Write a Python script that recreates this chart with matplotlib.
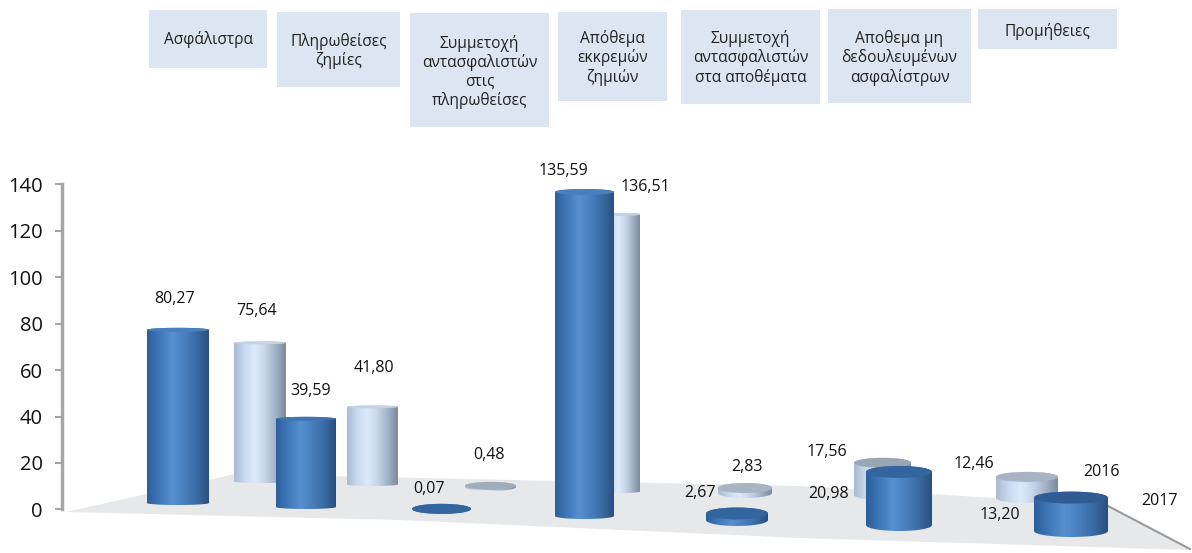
import numpy as np
import matplotlib
matplotlib.use('Agg')
from matplotlib import pyplot as plt
from matplotlib.path import Path
from matplotlib.patches import PathPatch, Polygon, Rectangle, Ellipse
from matplotlib.colors import LinearSegmentedColormap

plt.rcParams['font.family'] = ['Open Sans', 'DejaVu Sans']

categories = ['Ασφάλιστρα', 'Πληρωθείσες\nζημίες', 'Συμμετοχή\nαντασφαλιστών\nστις\nπληρωθείσες',
              'Απόθεμα\nεκκρεμών\nζημιών', 'Συμμετοχή\nαντασφαλιστών\nστα αποθέματα',
              'Αποθεμα μη\nδεδουλευμένων\nασφαλίστρων', 'Προμήθειες']
values_2017 = [80.27, 39.59, 0.07, 135.59, 2.67, 20.98, 13.20]
values_2016 = [75.64, 41.80, 0.48, 136.51, 2.83, 17.56, 12.46]
yticks = [0, 20, 40, 60, 80, 100, 120, 140]

# layout, all in image pixels
W, H = 1192, 553
Y0, PX_PER_UNIT = 509.3, 2.32

def py(p):
    return (Y0 - p) / PX_PER_UNIT

x_2017 = [178, 306, 441.5, 584.5, 737, 899, 1071]
w_2017 = [62, 60, 59, 59, 62, 66, 74]
bottom_2017 = [505, 509, 514, 519, 526, 531, 537]
ry_2017 = [2, 2, 5, 3, 6, 6, 6]
persp_2017 = [0.93, 0.96, 1, 1.03, 1.05, 1.09, 1.09]
top_2017 = ['#4a7fbe', '#3f74b0', '#33659f', '#4a7fbe', '#33659f', '#33659f', '#2f5c92']
x_2016 = [260, 372.5, 490.5, 622, 745, 882.5, 1027]
w_2016 = [52, 51, 51, 36, 54, 57, 62]
bottom_2016 = [483, 486, 491, 493, 498, 500, 503]
ry_2016 = [1.5, 1.5, 4, 1.5, 5, 5, 5]
persp_2016 = [0.79, 0.8, 1, 0.875, 0.76, 0.79, 0.73]
top_2016 = ['#c4d2e4', '#c4d2e4', '#a2adba', '#c4d2e4', '#a8b4c4', '#9aa6b4', '#a8b4c4']

lab_2017 = [(175, 299), (311, 391), (429, 489), (563, 171), (700, 493), (829, 494), (1000, 515)]
lab_2016 = [(257, 311), (374, 368), (489, 455), (645, 187), (747, 467), (827, 452), (974, 464)]

boxes = [(149, 10, 267, 68, 40), (277, 12, 400, 87, 51), (410, 13, 549, 127, 72),
         (558, 12, 667, 101, 58), (681, 10, 820, 104, 58), (828, 9, 971, 103, 58),
         (978, 9, 1117, 49, 31)]

blue = LinearSegmentedColormap.from_list('b', ['#2c5f9c', '#3f78b8', '#568fd0', '#4a80bf', '#3a6ba3', '#2a5080'])
light = LinearSegmentedColormap.from_list('l', ['#a9bbd2', '#c8daf0', '#dcebfb', '#c6d5e8', '#a3b2c6', '#7d8a9c'])
grad = np.linspace(0, 1, 128).reshape(1, -1)

fig = plt.figure(figsize=(W / 100, H / 100), dpi=100)
ax = fig.add_axes([0, 0, 1, 1])
ax.set_xlim(0, W)
ax.set_ylim(py(H), py(0))
ax.patch.set_visible(False)

# floor
floor = [(66, 512), (235, 474), (560, 481), (800, 486), (1108, 505), (1190, 550), (800, 538), (400, 520)]
ax.add_patch(Polygon([(x, py(y)) for x, y in floor], fc='#e6e8ea', ec='none', zorder=1))
ax.plot([1108, 1190], [py(506), py(549)], color='#9a9a9a', lw=1.5, zorder=1.5)


def cylinder(cx, w, bottom_px, ry, value, persp, cmap, top_col, z):
    rx = w / 2
    base = py(bottom_px - ry)
    top = base + value * persp
    r = ry / PX_PER_UNIT
    t = np.linspace(np.pi, 2 * np.pi, 50)
    xs = np.r_[cx + rx * np.cos(t), cx + rx * np.cos(t[::-1])]
    ys = np.r_[base + r * np.sin(t), top - r * np.sin(t[::-1])]
    path = Path(np.c_[xs, ys])
    im = ax.imshow(grad, cmap=cmap, aspect='auto', zorder=z,
                   extent=(cx - rx, cx + rx, base - r, top + r))
    im.set_clip_path(PathPatch(path, transform=ax.transData))
    ax.add_patch(Ellipse((cx, top), w, 2 * r, fc=top_col, ec='none', zorder=z + 0.01))


for i in range(len(values_2016)):
    cylinder(x_2016[i], w_2016[i], bottom_2016[i], ry_2016[i], values_2016[i], persp_2016[i],
             light, top_2016[i], 2 + i * 0.1)
for i in range(len(values_2017)):
    cylinder(x_2017[i], w_2017[i], bottom_2017[i], ry_2017[i], values_2017[i], persp_2017[i],
             blue, top_2017[i], 3 + i * 0.1)

ax.set_xlim(0, W)
ax.set_ylim(py(H), py(0))

# value labels
for v, (x, y) in zip(values_2017 + values_2016, lab_2017 + lab_2016):
    ax.text(x, py(y), f'{v:.2f}'.replace('.', ','), ha='center', va='center', fontsize=11.5,
            color='#111111', zorder=6)
ax.text(1101, py(472), '2016', ha='center', va='center', fontsize=11.5, color='#111111', zorder=6)
ax.text(1160, py(501), '2017', ha='center', va='center', fontsize=11.5, color='#111111', zorder=6)

# category boxes
for (x0, y0, x1, y1, yc), name in zip(boxes, categories):
    ax.add_patch(Rectangle((x0, py(y1)), x1 - x0, py(y0) - py(y1), fc='#dce6f2', ec='none', zorder=1))
    ax.text((x0 + x1) / 2, py(yc), name, ha='center', va='center', fontsize=11.2, linespacing=1.18,
            color='#222222', zorder=6)

# y axis
for s in ['top', 'right', 'bottom']:
    ax.spines[s].set_visible(False)
ax.spines['left'].set_position(('data', 62))
ax.spines['left'].set_bounds(0, 140)
ax.spines['left'].set_color('#a6a6a6')
ax.spines['left'].set_linewidth(2.5)
ax.xaxis.set_visible(False)
ax.set_yticks(yticks)
ax.tick_params(axis='y', direction='out', length=5, width=1.5, color='#a6a6a6',
               labelsize=14.5, pad=9, labelcolor='#111111')

fig.savefig('out.png', dpi=100)
